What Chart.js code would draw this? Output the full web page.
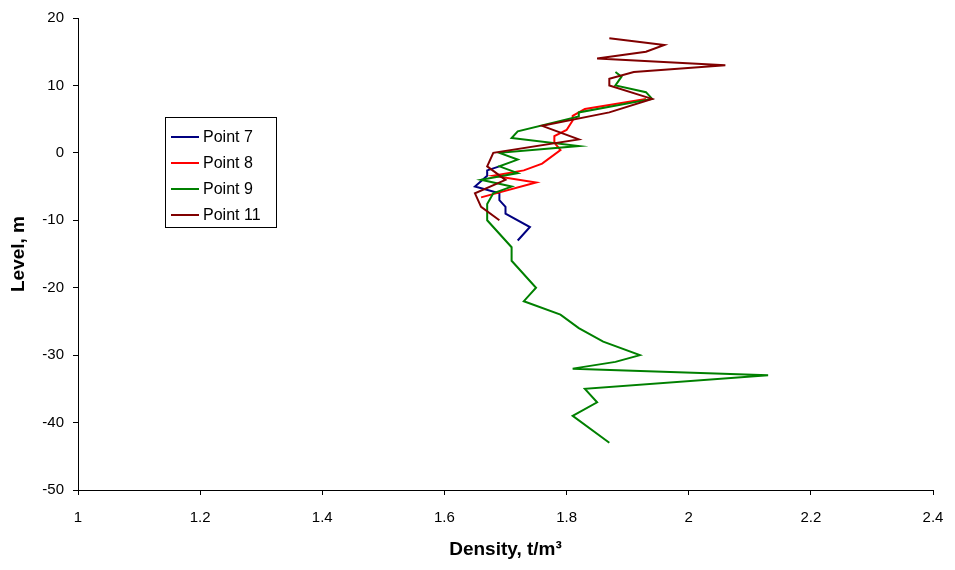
<!DOCTYPE html>
<html>
<head>
<meta charset="utf-8">
<script src="https://cdn.jsdelivr.net/npm/chart.js@4"></script>
<style>
  body { margin: 0; background: #fff; }
  #wrap { width: 955px; height: 570px; }
</style>
</head>
<body>
<div id="wrap"><canvas id="densityChart"></canvas></div>
<script>
// data (density t/m3 vs level m)
const seriesNames = ["Point 7", "Point 8", "Point 9", "Point 11"];
const seriesColors = ["#000080", "#ff0000", "#008000", "#800000"];

const p7Density = [1.69, 1.67, 1.67, 1.65, 1.69, 1.69, 1.70, 1.70, 1.74, 1.72];
const p7Level = [-2, -2.6, -3.4, -5, -6, -7, -8, -9, -11, -13];

const p8Density = [1.93, 1.83, 1.81, 1.81, 1.80, 1.78, 1.78, 1.79, 1.76, 1.73, 1.68, 1.75, 1.66];
const p8Level = [8, 6.5, 5.5, 4.8, 3.4, 2.5, 1.5, 0.4, -1.6, -2.6, -3.4, -4.4, -6.6];

const p9Density = [1.88, 1.89, 1.88, 1.93, 1.94, 1.82, 1.82, 1.72, 1.71, 1.82,
  1.69, 1.72, 1.69, 1.72, 1.66, 1.71, 1.68, 1.67, 1.67, 1.71,
  1.71, 1.75, 1.73, 1.79, 1.82, 1.86, 1.92, 1.88, 1.81, 2.13,
  1.83, 1.85, 1.81, 1.87];
const p9Level = [12, 11.3, 10, 9, 8, 6, 5.4, 3.2, 2.2, 1,
  0, -1, -2, -3, -4, -5, -6, -7.6, -10, -14,
  -16, -20, -22, -24, -26, -28, -30, -31, -32, -33,
  -35, -37, -39, -43];

const p11Density = [1.87, 1.96, 1.93, 1.85, 2.06, 1.91, 1.87, 1.87, 1.94, 1.87, 1.76, 1.82, 1.68, 1.67, 1.70, 1.65, 1.66, 1.69];
const p11Level = [17, 16, 15, 14, 13, 12, 11, 10, 8, 6, 4, 2, 0, -2, -4, -6, -8, -10];

// axis ranges / ticks
const xMin = 1, xMax = 2.4, xStep = 0.2;
const yMin = -50, yMax = 20, yStep = 10;

const densities = [p7Density, p8Density, p9Density, p11Density];
const levels = [p7Level, p8Level, p9Level, p11Level];

// pair up x / y
function toPoints(xs, ys) {
  return xs.map((x, i) => ({ x: x, y: ys[i] }));
}

const datasets = seriesNames.map((name, i) => ({
  label: name,
  data: toPoints(densities[i], levels[i]),
  borderColor: seriesColors[i],
  backgroundColor: seriesColors[i],
  borderWidth: 2,
  pointRadius: 0,
  tension: 0,
  order: seriesNames.length - i,
}));

// legend box drawn inside the plot like the original
const boxLegend = {
  id: "boxLegend",
  afterDraw(chart) {
    const ctx = chart.ctx;
    const left = 165, top = 117, w = 111, h = 110;
    ctx.save();
    ctx.fillStyle = "#fff";
    ctx.fillRect(left, top, w, h);
    ctx.strokeStyle = "#000";
    ctx.lineWidth = 1;
    ctx.strokeRect(left + 0.5, top + 0.5, w, h);
    ctx.font = "16px Arial, 'Liberation Sans', sans-serif";
    ctx.textBaseline = "middle";
    ctx.fillStyle = "#000";
    chart.data.datasets.forEach((ds, i) => {
      const y = top + 20 + i * 26;
      ctx.strokeStyle = ds.borderColor;
      ctx.lineWidth = 2;
      ctx.beginPath();
      ctx.moveTo(171, y);
      ctx.lineTo(199, y);
      ctx.stroke();
      ctx.fillText(ds.label, 203, y + 1);
    });
    ctx.restore();
  },
};

const ctx = document.getElementById("densityChart").getContext("2d");
new Chart(ctx, {
  type: "line",
  data: { datasets: datasets },
  options: {
    responsive: true,
    maintainAspectRatio: false,
    animation: false,
    layout: { padding: { top: 14, right: 22, left: 0, bottom: 0 } },
    plugins: {
      legend: { display: false },
      tooltip: { enabled: false },
    },
    scales: {
      x: {
        type: "linear",
        min: xMin,
        max: xMax,
        afterFit(scale) {
          scale.height = 80;
          scale.paddingLeft = 0;
          scale.paddingRight = 0;
        },
        afterBuildTicks(scale) {
          const t = [];
          for (let v = xMin; v <= xMax + 1e-9; v += xStep) t.push({ value: Math.round(v * 10) / 10 });
          scale.ticks = t;
        },
        border: { color: "#000", width: 1 },
        grid: { drawOnChartArea: false, tickLength: 5, color: "#000" },
        ticks: {
          color: "#000",
          padding: 14,
          maxRotation: 0,
          callback: (v) => String(Math.round(v * 10) / 10),
          font: { family: "Arial, 'Liberation Sans', sans-serif", size: 15 },
        },
        title: {
          display: true,
          text: "Density, t/m³",
          color: "#000",
          padding: { top: 0, bottom: 9 },
          font: { family: "Arial, 'Liberation Sans', sans-serif", size: 19, weight: "bold" },
        },
      },
      y: {
        type: "linear",
        min: yMin,
        max: yMax,
        afterFit(scale) { scale.width = 78; },
        ticks: {
          stepSize: yStep,
          color: "#000",
          padding: 9,
          font: { family: "Arial, 'Liberation Sans', sans-serif", size: 15 },
        },
        border: { color: "#000", width: 1 },
        grid: { drawOnChartArea: false, tickLength: 5, color: "#000" },
        title: {
          display: true,
          text: "Level, m",
          color: "#000",
          padding: { top: 7, bottom: 0 },
          font: { family: "Arial, 'Liberation Sans', sans-serif", size: 19, weight: "bold" },
        },
      },
    },
  },
  plugins: [boxLegend],
});
</script>
</body>
</html>
